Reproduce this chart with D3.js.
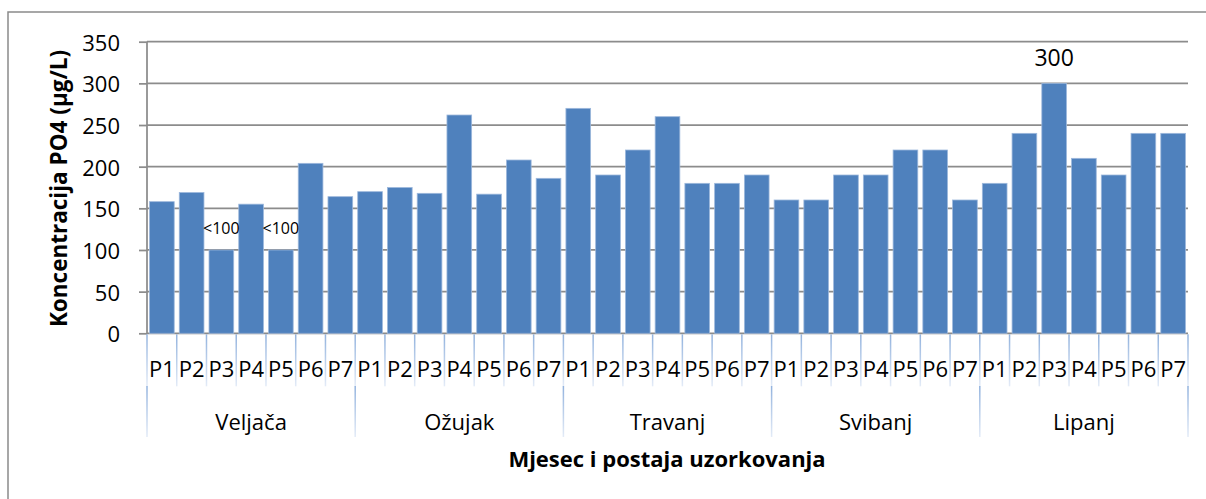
<!DOCTYPE html>
<html>
<head>
<meta charset="utf-8">
<script src="https://cdn.jsdelivr.net/npm/d3@7"></script>
<style>
  body { margin: 0; background: #fff; }
  svg { display: block; font-family: "Open Sans", "Liberation Sans", sans-serif; }
</style>
</head>
<body>
<div id="chart"></div>
<script>
// data
var months = ["Veljača", "Ožujak", "Travanj", "Svibanj", "Lipanj"];
var stations = ["P1", "P2", "P3", "P4", "P5", "P6", "P7"];
var veljaca = [158, 169, 100, 155, 100, 204, 164];
var ozujak  = [170, 175, 168, 262, 167, 208, 186];
var travanj = [270, 190, 220, 260, 180, 180, 190];
var svibanj = [160, 160, 190, 190, 220, 220, 160];
var lipanj  = [180, 240, 300, 210, 190, 240, 240];
var yTicks = [0, 50, 100, 150, 200, 250, 300, 350];
// bar labels shown in the chart
var notes = [
  {month: "Veljača", station: "P3", text: "<100", size: 16},
  {month: "Veljača", station: "P5", text: "<100", size: 16},
  {month: "Lipanj",  station: "P3", text: "300",  size: 23}
];

var series = [veljaca, ozujak, travanj, svibanj, lipanj];
var data = [];
months.forEach(function(m, i) {
  stations.forEach(function(s, j) {
    data.push({month: m, station: s, key: m + "-" + s, value: series[i][j]});
  });
});

var width = 1206, height = 499;
var plot = {left: 147, right: 1188, top: 41.7, bottom: 333.3};

var svg = d3.select("#chart").append("svg")
    .attr("width", width)
    .attr("height", height);

// outer frame
svg.append("rect")
    .attr("x", 8).attr("y", 12)
    .attr("width", 1220).attr("height", 520)
    .attr("fill", "none")
    .attr("stroke", "#8a8a8a")
    .attr("stroke-width", 1.5);

var x = d3.scaleBand()
    .domain(data.map(function(d) { return d.key; }))
    .range([plot.left, plot.right])
    .paddingInner(0.17)
    .paddingOuter(0.085);

var y = d3.scaleLinear()
    .domain([0, 350])
    .range([plot.bottom, plot.top]);

// gridlines + y ticks
var yAxis = svg.append("g")
    .attr("transform", "translate(" + plot.left + ",0)")
    .call(d3.axisLeft(y).tickValues(yTicks).tickSize(8).tickPadding(19));
yAxis.select(".domain").remove();
yAxis.selectAll(".tick line").attr("stroke", "#8c8c8c").attr("stroke-width", 1.75);
yAxis.selectAll(".tick text")
    .attr("font-size", 22)
    .attr("font-family", "Open Sans, Liberation Sans, sans-serif")
    .attr("fill", "#000")
    .attr("dy", "0.39em");

svg.append("g").selectAll("line")
  .data(yTicks)
  .enter().append("line")
    .attr("x1", plot.left).attr("x2", plot.right)
    .attr("y1", function(d) { return y(d); })
    .attr("y2", function(d) { return y(d); })
    .attr("stroke", "#8c8c8c")
    .attr("stroke-width", 1.75);

svg.append("line")
    .attr("x1", plot.left).attr("x2", plot.left)
    .attr("y1", plot.top).attr("y2", plot.bottom)
    .attr("stroke", "#8c8c8c")
    .attr("stroke-width", 1.75);

// bars
svg.append("g").selectAll("rect")
  .data(data)
  .enter().append("rect")
    .attr("x", function(d) { return x(d.key); })
    .attr("width", x.bandwidth())
    .attr("y", function(d) { return y(d.value); })
    .attr("height", function(d) { return y(0) - y(d.value); })
    .attr("fill", "#4f81bd")
    .attr("stroke", "#9db8dc")
    .attr("stroke-width", 0.8);

// bar labels
svg.append("g").selectAll("text")
  .data(notes)
  .enter().append("text")
    .attr("x", function(d) { return x(d.month + "-" + d.station) + x.bandwidth() / 2; })
    .attr("y", function(d) {
      var v = data.find(function(e) { return e.key === d.month + "-" + d.station; }).value;
      return y(v) - (d.size > 20 ? 17.6 : 16);
    })
    .attr("text-anchor", "middle")
    .attr("font-size", function(d) { return d.size; })
    .text(function(d) { return d.text; });

// category axis (two levels)
var grad = svg.append("defs").append("linearGradient")
    .attr("id", "sep").attr("x1", 0).attr("y1", 0).attr("x2", 0).attr("y2", 1);
grad.append("stop").attr("offset", "0%").attr("stop-color", "#93b3de");
grad.append("stop").attr("offset", "100%").attr("stop-color", "#e3ebf7");

var step = x.step();
var bounds = d3.range(data.length + 1).map(function(i) { return plot.left + i * step; });

svg.append("g").selectAll("rect")
  .data(bounds)
  .enter().append("rect")
    .attr("x", function(d) { return d - 0.75; })
    .attr("width", 1.5)
    .attr("y", plot.bottom + 1)
    .attr("height", 52)
    .attr("fill", "url(#sep)");

svg.append("g").selectAll("rect")
  .data(bounds.filter(function(d, i) { return i % stations.length === 0; }))
  .enter().append("rect")
    .attr("x", function(d) { return d - 0.75; })
    .attr("width", 1.5)
    .attr("y", 386)
    .attr("height", 51)
    .attr("fill", "url(#sep)");

svg.append("g").selectAll("text")
  .data(data)
  .enter().append("text")
    .attr("x", function(d) { return x(d.key) + x.bandwidth() / 2; })
    .attr("y", 377)
    .attr("text-anchor", "middle")
    .attr("font-size", 22)
    .text(function(d) { return d.station; });

svg.append("g").selectAll("text")
  .data(months)
  .enter().append("text")
    .attr("x", function(d, i) { return plot.left + (i + 0.5) * stations.length * step; })
    .attr("y", 430)
    .attr("text-anchor", "middle")
    .attr("font-size", 22)
    .text(function(d) { return d; });

// axis titles
svg.append("text")
    .attr("x", 667)
    .attr("y", 467)
    .attr("text-anchor", "middle")
    .attr("font-size", 22)
    .attr("font-weight", "bold")
    .text("Mjesec i postaja uzorkovanja");

svg.append("text")
    .attr("transform", "translate(67,188.5) rotate(-90)")
    .attr("text-anchor", "middle")
    .attr("font-size", 22.5)
    .attr("font-weight", "bold")
    .text("Koncentracija PO4 (µg/L)");
</script>
</body>
</html>
